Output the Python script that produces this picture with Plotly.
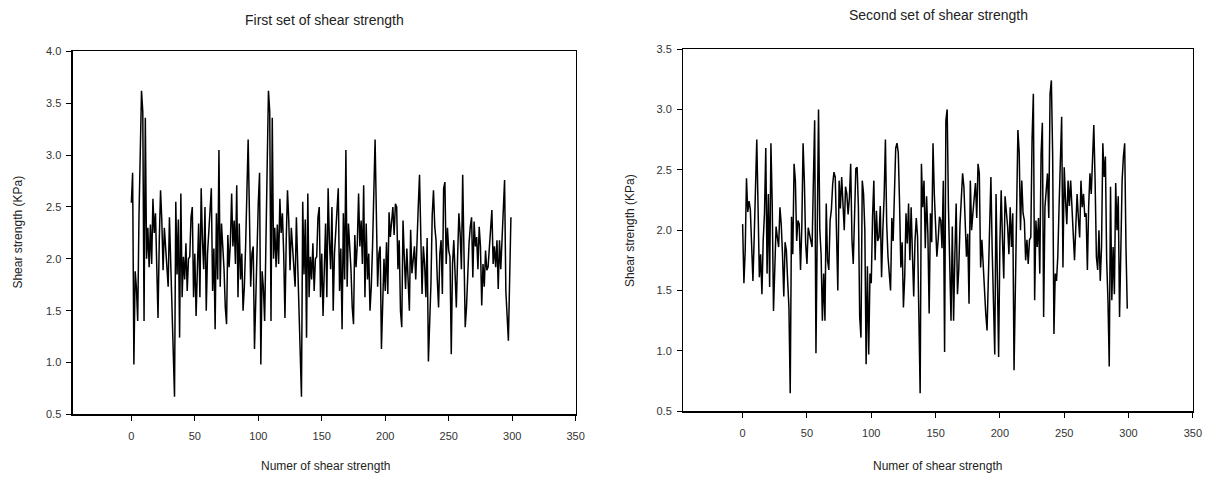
import plotly.graph_objects as go

# ---------------- data ----------------
first_set_0_99 = [
    2.54, 2.83, 0.98, 1.88, 1.72, 1.40, 2.40, 2.90, 3.62, 3.42,
    1.40, 3.36, 2.00, 2.30, 1.92, 2.33, 1.95, 2.58, 2.25, 2.44,
    2.05, 1.43, 2.18, 2.66, 2.37, 1.89, 2.30, 2.12, 1.95, 1.73,
    2.40, 1.98, 1.53, 1.26, 0.67, 2.55, 1.85, 2.38, 1.24, 2.63,
    1.63, 2.02, 1.80, 2.15, 1.69, 2.00, 2.02, 2.40, 2.50, 1.63,
    2.05, 1.45, 1.95, 2.34, 1.63, 2.68, 2.18, 1.90, 2.50, 1.50,
    2.05, 2.28, 2.58, 2.68, 1.69, 2.10, 1.32, 2.44, 1.80, 3.05,
    1.73, 2.34, 2.12, 1.90, 1.53, 1.37, 2.23, 1.92, 2.15, 2.63,
    2.12, 2.37, 1.95, 2.71, 1.63, 2.34, 1.80, 2.05, 1.50, 1.73,
    2.12, 2.74, 3.15, 2.44, 1.73, 2.05, 2.12, 1.13, 1.69, 2.00,
]
first_set_100_199 = [
    2.54, 2.83, 0.98, 1.88, 1.72, 1.40, 2.40, 2.90, 3.62, 3.42,
    1.40, 3.36, 2.00, 2.30, 1.92, 2.33, 1.95, 2.58, 2.25, 2.44,
    2.05, 1.43, 2.18, 2.66, 2.37, 1.89, 2.30, 2.12, 1.95, 1.73,
    2.40, 1.98, 1.53, 1.26, 0.67, 2.55, 1.85, 2.38, 1.24, 2.63,
    1.63, 2.02, 1.80, 2.15, 1.69, 2.00, 2.02, 2.40, 2.50, 1.63,
    2.05, 1.45, 1.95, 2.34, 1.63, 2.68, 2.18, 1.90, 2.50, 1.50,
    2.05, 2.28, 2.58, 2.68, 1.69, 2.10, 1.32, 2.44, 1.80, 3.05,
    1.73, 2.34, 2.12, 1.90, 1.53, 1.37, 2.23, 1.92, 2.15, 2.63,
    2.12, 2.37, 1.95, 2.71, 1.63, 2.34, 1.80, 2.05, 1.50, 1.73,
    2.12, 2.74, 3.15, 2.44, 1.73, 2.05, 2.12, 1.13, 1.69, 2.00,
]
first_set_200_299 = [
    1.69, 2.16, 1.66, 2.45, 2.21, 2.39, 2.50, 2.23, 2.53, 2.50,
    1.90, 2.18, 1.50, 1.34, 2.37, 2.02, 1.71, 2.10, 1.84, 1.50,
    2.28, 1.86, 1.99, 2.12, 1.80, 2.24, 2.50, 2.81, 2.24, 1.66,
    2.12, 1.95, 1.63, 2.20, 1.01, 1.39, 1.76, 2.42, 2.66, 2.31,
    2.18, 1.80, 1.53, 2.05, 2.18, 1.66, 2.68, 2.74, 1.95, 2.30,
    2.08, 2.02, 1.08, 1.95, 2.18, 1.86, 1.53, 2.02, 2.44, 2.24,
    1.90, 2.81, 1.86, 1.34, 1.53, 1.95, 2.15, 2.31, 2.40, 1.82,
    2.36, 2.12, 2.21, 1.90, 2.31, 2.12, 1.55, 1.95, 1.73, 2.08,
    1.89, 1.92, 2.10, 2.37, 2.47, 1.95, 2.12, 1.92, 2.18, 1.71,
    2.18, 1.90, 2.21, 2.39, 2.76, 1.69, 1.44, 1.21, 1.81, 2.40,
]

second_set_0_99 = [
    2.05, 1.56, 1.83, 2.43, 2.15, 2.24, 2.17, 1.80, 1.58, 1.94,
    2.28, 2.75, 2.19, 1.61, 1.80, 1.47, 1.92, 2.14, 2.68, 1.64,
    2.30, 1.53, 2.72, 2.22, 1.33, 1.64, 2.03, 1.94, 1.86, 2.19,
    2.05, 1.80, 1.45, 1.90, 1.83, 1.58, 1.36, 0.65, 2.11, 1.80,
    2.55, 2.41, 1.91, 2.08, 2.05, 1.67, 2.02, 2.72, 2.40, 1.89,
    1.72, 2.02, 1.97, 1.92, 1.86, 2.41, 2.91, 0.98, 2.28, 3.00,
    2.00, 1.80, 1.25, 1.64, 1.25, 2.22, 1.75, 1.67, 2.08, 2.17,
    2.38, 2.48, 2.44, 2.02, 1.50, 2.41, 2.18, 2.44, 2.25, 2.00,
    2.36, 2.30, 2.13, 2.27, 2.55, 1.92, 1.72, 2.05, 2.51, 2.52,
    2.19, 1.28, 1.11, 2.41, 2.30, 2.00, 0.89, 1.70, 0.97, 1.64,
]
second_set_100_199 = [
    1.56, 2.11, 2.41, 1.75, 2.16, 1.91, 1.94, 2.20, 1.61, 2.00,
    2.28, 2.75, 2.05, 1.78, 1.64, 1.50, 2.10, 1.91, 2.30, 2.68,
    2.72, 2.64, 2.22, 1.69, 1.90, 1.36, 1.61, 2.14, 1.89, 2.22,
    1.75, 2.19, 1.80, 1.45, 1.91, 2.10, 1.94, 1.36, 0.65, 2.55,
    2.19, 2.41, 1.85, 2.28, 1.97, 1.31, 2.14, 1.90, 2.72, 2.30,
    2.03, 1.78, 1.92, 2.11, 2.08, 1.85, 2.41, 0.99, 2.91, 3.00,
    2.19, 1.64, 1.25, 2.03, 1.25, 1.80, 2.22, 1.47, 1.67, 2.05,
    2.33, 2.47, 2.36, 2.05, 1.78, 1.97, 1.39, 2.41, 2.00, 2.14,
    2.28, 2.39, 2.10, 2.55, 2.47, 1.69, 1.92, 1.70, 1.47, 1.31,
    1.17, 1.60, 2.00, 2.44, 1.83, 1.40, 0.97, 2.30, 1.47, 0.95,
]
second_set_200_299 = [
    1.90, 2.33, 1.92, 1.60, 2.28, 2.14, 2.03, 1.80, 2.19, 1.86,
    2.14, 0.84, 1.60, 2.14, 2.83, 2.64, 2.00, 2.41, 2.14, 2.08,
    1.75, 1.92, 1.72, 1.92, 1.94, 2.75, 3.13, 1.42, 2.08, 1.86,
    2.10, 1.64, 2.63, 2.89, 1.28, 2.19, 2.30, 2.47, 2.10, 3.13,
    3.24, 2.63, 1.14, 1.64, 1.58, 1.78, 2.20, 2.50, 2.94, 1.69,
    2.52, 2.25, 2.05, 2.41, 2.20, 2.41, 2.19, 1.86, 1.75, 2.03,
    2.30, 2.10, 1.94, 2.41, 2.19, 2.30, 2.11, 2.14, 1.67, 2.20,
    2.47, 2.30, 2.63, 2.87, 2.41, 1.78, 1.67, 2.00, 1.58, 1.86,
    2.72, 2.44, 2.61, 1.75, 1.42, 0.87, 2.36, 1.42, 1.86, 1.47,
    2.39, 2.00, 2.28, 1.28, 1.83, 2.41, 2.61, 2.72, 1.86, 1.35,
]

first_set = first_set_0_99 + first_set_100_199 + first_set_200_299
second_set = second_set_0_99 + second_set_100_199 + second_set_200_299
sample_numbers = list(range(0, 300))

x_ticks = [0, 50, 100, 150, 200, 250, 300, 350]
y_ticks_first = [0.5, 1.0, 1.5, 2.0, 2.5, 3.0, 3.5, 4.0]
y_ticks_second = [0.5, 1.0, 1.5, 2.0, 2.5, 3.0, 3.5]

title_first = "First set of shear strength"
title_second = "Second set of shear strength"
x_title = "Numer of shear strength"
y_title = "Shear strength (KPa)"

# ---------------- figure ----------------
W, H = 1217, 491
FONT = "Liberation Sans, Arial, sans-serif"

# the photographed page is slightly shrunk/offset relative to the figure;
# positions below are target pixels in the final 1207x477 picture
SX, OX = 0.9918, -0.2
SY, OY = 0.9723, 6.4


def fx(p):
    return ((p - OX) / SX) / W


def fy(p):
    return 1 - ((p - OY) / SY) / H


fig = go.Figure()
fig.add_trace(go.Scatter(x=sample_numbers, y=first_set, mode="lines",
                         line=dict(color="black", width=1.5), xaxis="x", yaxis="y",
                         showlegend=False, hoverinfo="skip"))
fig.add_trace(go.Scatter(x=sample_numbers, y=second_set, mode="lines",
                         line=dict(color="black", width=1.5), xaxis="x2", yaxis="y2",
                         showlegend=False, hoverinfo="skip"))

common_axis = dict(showgrid=False, zeroline=False, showline=True, linecolor="black",
                   linewidth=1.5, mirror=True, ticks="outside", ticklen=5,
                   tickcolor="black", tickwidth=1,
                   tickfont=dict(family=FONT, size=11, color="#333333"))

fig.update_layout(
    width=W, height=H, autosize=False,
    margin=dict(l=0, r=0, t=0, b=0),
    paper_bgcolor="white", plot_bgcolor="white",
    font=dict(family=FONT, color="#222222"),
    xaxis=dict(domain=[fx(72.7), fx(575)], range=[-46, 350], tickvals=x_ticks,
               anchor="y", ticklabelstandoff=6, **common_axis),
    yaxis=dict(domain=[fy(413.4), fy(51.7)], range=[0.5, 4.0], tickvals=y_ticks_first,
               tickformat=".1f", anchor="x", ticklabelstandoff=3, **common_axis),
    xaxis2=dict(domain=[fx(682.7), fx(1191.7)], range=[-46, 350], tickvals=x_ticks,
                anchor="y2", ticklabelstandoff=6, **common_axis),
    yaxis2=dict(domain=[fy(410.3), fy(49.3)], range=[0.5, 3.5], tickvals=y_ticks_second,
                tickformat=".1f", anchor="x2", ticklabelstandoff=3, **common_axis),
)

annos = [
    dict(text=title_first, x=fx(324), y=fy(20), size=14, angle=0),
    dict(text=title_second, x=fx(937.5), y=fy(15), size=14, angle=0),
    dict(text=x_title, x=fx(325), y=fy(465), size=12, angle=0),
    dict(text=x_title, x=fx(937), y=fy(465), size=12, angle=0),
    dict(text=y_title, x=fx(18), y=fy(232), size=12, angle=-90),
    dict(text=y_title, x=fx(630), y=fy(230), size=12, angle=-90),
]
for a in annos:
    fig.add_annotation(text=a["text"], x=a["x"], y=a["y"], xref="paper", yref="paper",
                       xanchor="center", yanchor="middle", showarrow=False,
                       textangle=a["angle"],
                       font=dict(family=FONT, size=a["size"], color="#222222"))

fig.write_html(
    "out.html",
    config={"displayModeBar": False, "staticPlot": True},
    post_script="document.body.style.margin='0';document.body.style.overflow='hidden';",
)
